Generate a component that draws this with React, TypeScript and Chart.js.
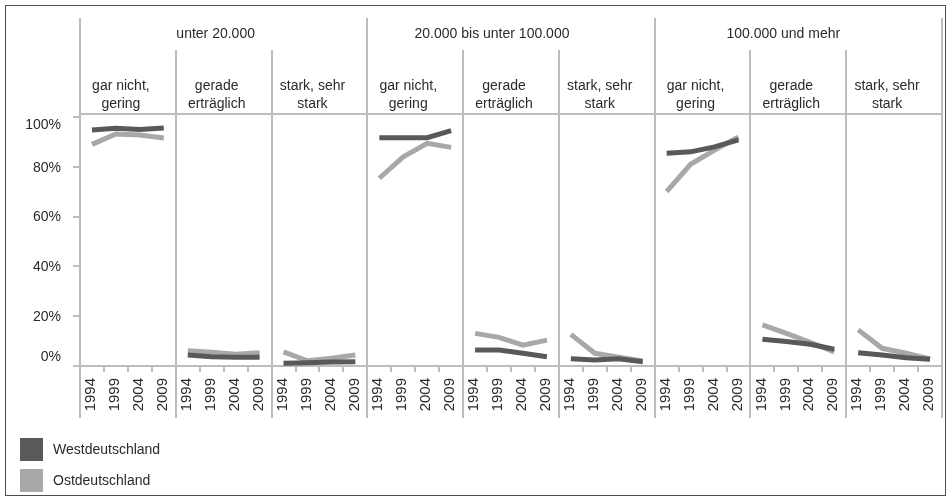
import React, { useEffect, useRef } from 'react';
import { Chart, registerables } from 'chart.js';

Chart.register(...registerables);

// ---- data ----
const years = ['1994', '1999', '2004', '2009'];
const groupLabels = ['unter 20.000', '20.000 bis unter 100.000', '100.000 und mehr'];
const levelLabels = [
  ['gar nicht,', 'gering'],
  ['gerade', 'erträglich'],
  ['stark, sehr', 'stark'],
];
const yTicks = [0, 20, 40, 60, 80, 100];
const seriesNames = ['Westdeutschland', 'Ostdeutschland'];

// per group: [gar nicht/gering, gerade erträglich, stark/sehr stark] x years
const westUnter20k = [
  [94.8, 95.5, 95.0, 95.6],
  [4.4, 3.7, 3.5, 3.5],
  [1.1, 1.3, 1.6, 1.7],
];
const west20kTo100k = [
  [91.7, 91.7, 91.7, 94.5],
  [6.4, 6.4, 5.1, 3.7],
  [2.9, 2.4, 2.9, 1.7],
];
const west100kPlus = [
  [85.4, 86.0, 88.0, 90.8],
  [10.7, 9.8, 8.7, 6.7],
  [5.3, 4.4, 3.3, 2.7],
];
const ostUnter20k = [
  [89.0, 93.2, 92.8, 91.6],
  [6.1, 5.5, 4.7, 5.3],
  [5.7, 2.1, 3.1, 4.4],
];
const ost20kTo100k = [
  [75.4, 84.0, 89.4, 87.8],
  [13.1, 11.5, 8.4, 10.4],
  [12.7, 5.1, 3.5, 2.0],
];
const ost100kPlus = [
  [70.0, 81.0, 86.7, 92.0],
  [16.5, 13.1, 9.5, 5.7],
  [14.5, 7.1, 5.1, 2.8],
];

// ---- styles ----
const FONT = '"Liberation Sans", Arial, Helvetica, sans-serif';
const WEST_COLOR = '#59595c';
const OST_COLOR = '#a8a8ab';
const GRID = '#bdbdc1';
const TEXT = '#2a2a2a';
const FRAME = '#4d4d4d';
const groupTextShift = [-8, -19, -15];

const labels: string[] = [];
groupLabels.forEach(() => levelLabels.forEach(() => years.forEach((y) => labels.push(y))));
const westData = [...westUnter20k, ...west20kTo100k, ...west100kPlus].flat();
const ostData = [...ostUnter20k, ...ost20kTo100k, ...ost100kPlus].flat();
const panelCount = groupLabels.length * levelLabels.length;

const panelPlugin = {
  id: 'panelDecor',
  beforeDraw(chart: any) {
    const { ctx, width, height } = chart;
    ctx.save();
    ctx.fillStyle = '#ffffff';
    ctx.fillRect(0, 0, width, height);
    ctx.restore();
  },
  afterDraw(chart: any) {
    const { ctx, chartArea: a } = chart;
    const yScale = chart.scales.y;
    const pw = (a.right - a.left) / panelCount;
    ctx.save();
    ctx.strokeStyle = GRID;
    ctx.lineWidth = 2;
    ctx.beginPath();
    ctx.moveTo(a.left, a.top);
    ctx.lineTo(a.right, a.top);
    ctx.stroke();
    for (let k = 0; k <= panelCount; k++) {
      const xk = Math.round(a.left + k * pw);
      const top = k % 3 === 0 ? a.top - 96 : a.top - 64;
      ctx.beginPath();
      ctx.moveTo(xk, top);
      ctx.lineTo(xk, a.bottom + 52);
      ctx.stroke();
    }
    ctx.fillStyle = TEXT;
    ctx.font = `14px ${FONT}`;
    ctx.textAlign = 'center';
    ctx.textBaseline = 'middle';
    groupLabels.forEach((g, gi) => {
      const cx = a.left + (gi * 3 + 1.5) * pw + groupTextShift[gi];
      ctx.fillText(g, cx, a.top - 80);
    });
    for (let k = 0; k < panelCount; k++) {
      const lv = levelLabels[k % 3];
      const cx = a.left + (k + 0.5) * pw - 7;
      ctx.fillText(lv[0], cx, a.top - 28);
      ctx.fillText(lv[1], cx, a.top - 10);
    }
    // y tick labels, kept inside the plot range
    ctx.textAlign = 'right';
    yTicks.forEach((v) => {
      const py = yScale.getPixelForValue(v);
      const ly = Math.min(Math.max(py + 1, a.top + 11), a.bottom - 9);
      ctx.fillText(`${v}%`, a.left - 19, ly);
    });
    // legend
    const colors = [WEST_COLOR, OST_COLOR];
    ctx.textAlign = 'left';
    seriesNames.forEach((n, i) => {
      const y0 = 438 + i * 31;
      ctx.fillStyle = colors[i];
      ctx.fillRect(20, y0, 23, 23);
      ctx.fillStyle = TEXT;
      ctx.fillText(n, 53, y0 + 12);
    });
    // frame
    ctx.strokeStyle = FRAME;
    ctx.lineWidth = 1;
    ctx.strokeRect(5.5, 5.5, 940, 490);
    ctx.restore();
  },
};

const hideCross = (color: string) => (c: any) => (c.p0DataIndex % 4 === 3 ? 'rgba(0,0,0,0)' : color);

export default function App() {
  const ref = useRef<HTMLCanvasElement | null>(null);
  useEffect(() => {
    if (!ref.current) return;
    const chart = new Chart(ref.current, {
      type: 'line',
      data: {
        labels,
        datasets: [
          {
            label: seriesNames[0],
            data: westData,
            borderColor: WEST_COLOR,
            backgroundColor: WEST_COLOR,
            borderWidth: 5,
            pointRadius: 0,
            tension: 0,
            borderCapStyle: 'butt',
            borderJoinStyle: 'miter',
            segment: { borderColor: hideCross(WEST_COLOR) },
          },
          {
            label: seriesNames[1],
            data: ostData,
            borderColor: OST_COLOR,
            backgroundColor: OST_COLOR,
            borderWidth: 5,
            pointRadius: 0,
            tension: 0,
            borderCapStyle: 'butt',
            borderJoinStyle: 'miter',
            segment: { borderColor: hideCross(OST_COLOR) },
          },
        ],
      },
      options: {
        responsive: false,
        animation: false,
        events: [],
        layout: { padding: { top: 114, right: 9, left: 0, bottom: 0 } },
        plugins: { legend: { display: false }, tooltip: { enabled: false } },
        scales: {
          x: {
            type: 'category',
            offset: true,
            grid: { offset: true, drawOnChartArea: false, drawTicks: true, tickLength: 6, color: GRID, lineWidth: 2 },
            border: { display: true, color: GRID, width: 2 },
            ticks: {
              autoSkip: false,
              maxRotation: 90,
              minRotation: 90,
              padding: 6,
              labelOffset: -1,
              color: TEXT,
              font: { size: 15, family: FONT },
            },
            afterFit: (s: any) => {
              s.height = 134;
              s.paddingLeft = 0;
              s.paddingRight = 0;
            },
          },
          y: {
            min: 0,
            max: 101.2,
            afterBuildTicks: (s: any) => {
              s.ticks = yTicks.map((v) => ({ value: v }));
            },
            grid: { drawOnChartArea: false, drawTicks: true, tickLength: 7, color: GRID, lineWidth: 2 },
            border: { display: false },
            ticks: {
              display: false,
            },
            afterFit: (s: any) => {
              s.width = 80;
              s.paddingTop = 0;
              s.paddingBottom = 0;
            },
          },
        },
      },
      plugins: [panelPlugin],
    });
    return () => chart.destroy();
  }, []);
  return (
    <div style={{ position: 'fixed', left: 0, top: 0, width: 951, height: 500, background: '#fff' }}>
      <canvas ref={ref} width={951} height={500} style={{ display: 'block' }} />
    </div>
  );
}
